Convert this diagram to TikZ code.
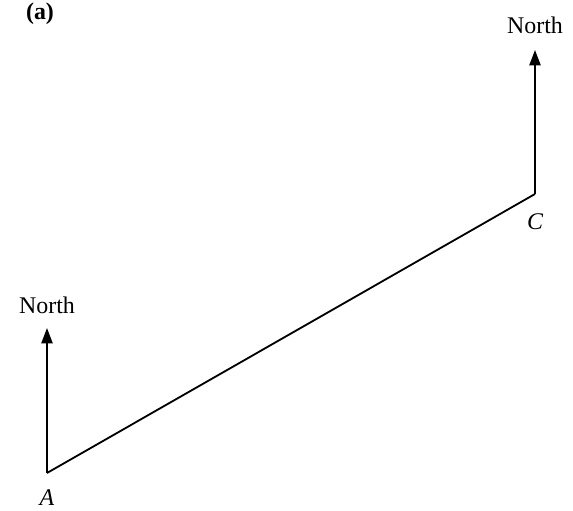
\documentclass[tikz,border=0pt]{standalone}
\usepackage{fontspec}
\setmainfont{Liberation Serif}
\usetikzlibrary{arrows.meta}

\begin{document}
\begin{tikzpicture}[line width=1.3pt,
  northarrow/.style={-{Triangle[length=11pt,width=8pt]}},
  lbl/.style={font=\fontsize{17}{20}\selectfont,inner sep=0pt}]
\useasboundingbox (0,0) rectangle (14.325,12.75);
\coordinate (A) at (1.175,0.925);
\coordinate (C) at (13.375,7.9);
\coordinate (tipA) at (1.175,4.55);
\coordinate (tipC) at (13.375,11.5);
\node[lbl,font=\fontsize{17}{20}\selectfont\bfseries] (tag) at (1.0,12.4) {(a)};
\node[lbl] (northA) at (1.175,5.125) {North};
\node[lbl] (northC) at (13.375,12.125) {North};
\node[lbl,font=\fontsize{17}{20}\selectfont\itshape] (labA) at (1.175,0.3) {A};
\node[lbl,font=\fontsize{17}{20}\selectfont\itshape] (labC) at (13.375,7.2) {C};
\draw (A) -- (C);
\draw[northarrow] (A) -- (tipA);
\draw[northarrow] (C) -- (tipC);
\end{tikzpicture}
\end{document}
